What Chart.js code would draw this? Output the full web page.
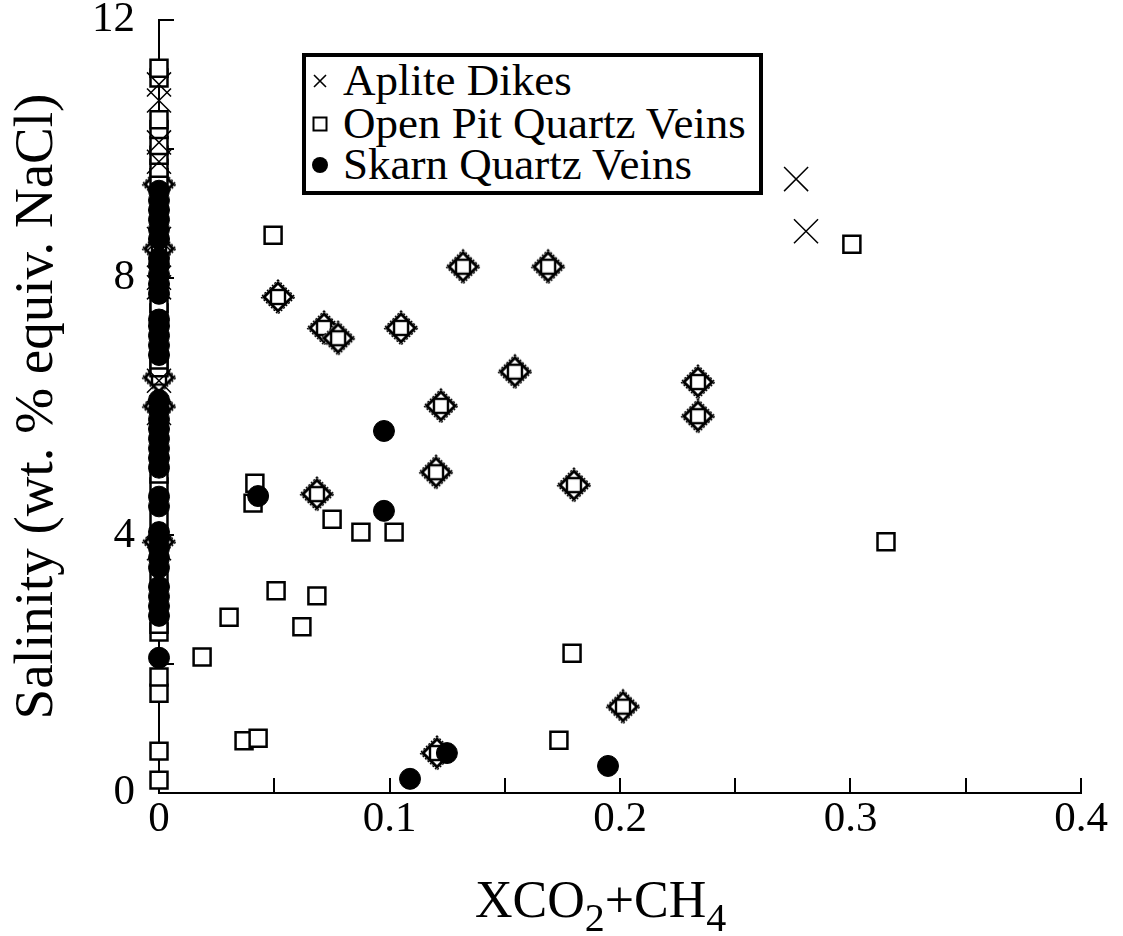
<!DOCTYPE html>
<html>
<head>
<meta charset="utf-8">
<title>Salinity vs XCO2+CH4</title>
<script src="https://cdn.jsdelivr.net/npm/chart.js@4.4.1/dist/chart.umd.min.js"></script>
<style>
    body { margin: 0; background: #fff; }
    #wrap { position: relative; width: 1123px; height: 936px; font-family: 'Liberation Serif', 'Times New Roman', serif; color: #000; }
    #legendBox { position: absolute; left: 302px; top: 53px; width: 461px; height: 142px; border: 4px solid #000; box-sizing: border-box; background: #fff; }
    .row { position: absolute; left: 0; height: 44px; line-height: 44px; font-size: 45px; white-space: nowrap; }
    .row svg { position: absolute; left: 5px; top: 14px; }
    .row span { position: absolute; left: 37px; }
    #xTitle { position: absolute; left: 475px; top: 874px; font-size: 52px; line-height: 1; white-space: nowrap; }
    #xTitle .sub { font-size: 40px; position: relative; top: 14px; }
</style>
</head>
<body>
<div id="wrap">
    <canvas id="salinityChart" width="1123" height="936"></canvas>
    <div id="legendBox">
        <div class="row" style="top:1px"><svg width="18" height="18"><path d="M3 3L15 15M15 3L3 15" stroke="#000" stroke-width="1.6"/></svg><span>Aplite Dikes</span></div>
        <div class="row" style="top:44px"><svg width="18" height="18"><rect x="2.5" y="2.5" width="13" height="13" fill="#fff" stroke="#000" stroke-width="2"/></svg><span>Open Pit Quartz Veins</span></div>
        <div class="row" style="top:85px"><svg width="18" height="18"><circle cx="9" cy="9" r="8" fill="#000"/></svg><span>Skarn Quartz Veins</span></div>
    </div>
    <div id="xTitle">XCO<span class="sub">2</span>+CH<span class="sub">4</span></div>
</div>
<script>
// Salinity (wt. % equiv. NaCl) against XCO2+CH4
// each point is [XCO2+CH4, salinity]

var aplitePoints = [
    [0, 11.0], [0, 10.75], [0, 10.1], [0, 9.8], [0, 8.6], [0, 8.0], [0, 7.85],
    [0, 6.4], [0, 5.9], [0, 3.8],
    [0.2764, 9.53], [0.2807, 8.72]
];

var openPitPoints = [
    [0, 0.2], [0, 0.65], [0, 1.55], [0, 1.8], [0, 2.5], [0, 2.62], [0, 3.35], [0, 4.25],
    [0, 4.75], [0, 4.95], [0, 6.6], [0, 6.72], [0, 7.45], [0, 7.6], [0, 9.55], [0, 9.7],
    [0, 9.9], [0, 10.05], [0, 10.3], [0, 10.45], [0, 11.1], [0, 11.25],
    [0.0495, 8.66], [0.3006, 8.52], [0.3154, 3.90], [0.0416, 4.81], [0.0408, 4.50],
    [0.0751, 4.25], [0.0876, 4.05], [0.1020, 4.05], [0.0508, 3.14], [0.0685, 3.06],
    [0.0304, 2.73], [0.0620, 2.58], [0.0187, 2.11], [0.1792, 2.17], [0.0369, 0.81],
    [0.0430, 0.85], [0.1735, 0.82]
];

var skarnPoints = [
    [0, 2.1], [0, 2.75], [0, 2.9], [0, 3.05], [0, 3.2], [0, 3.5], [0, 3.65], [0, 3.8],
    [0, 3.95], [0, 4.05], [0, 4.45], [0, 4.6], [0, 5.05], [0, 5.2], [0, 5.35], [0, 5.5],
    [0, 5.65], [0, 5.8], [0, 5.95], [0, 6.1], [0, 6.8], [0, 6.95], [0, 7.1], [0, 7.25],
    [0, 7.35], [0, 7.75], [0, 7.9], [0, 8.05], [0, 8.2], [0, 8.3], [0, 8.6], [0, 8.75],
    [0, 8.9], [0, 9.05], [0, 9.2], [0, 9.35],
    [0.0976, 5.62], [0.0430, 4.61], [0.0976, 4.38], [0.1089, 0.22], [0.1249, 0.62], [0.1948, 0.42]
];

// diamond-framed squares (no legend entry in the figure)
var diamondPoints = [
    [0, 3.9], [0, 6.0], [0, 6.45], [0, 8.45], [0, 9.45],
    [0.0516, 7.70], [0.0716, 7.22], [0.0777, 7.06], [0.1050, 7.22], [0.1319, 8.17],
    [0.1688, 8.17], [0.1544, 6.54], [0.1223, 6.01], [0.1202, 4.98], [0.0685, 4.64],
    [0.1800, 4.78], [0.2338, 6.38], [0.2338, 5.85], [0.2013, 1.34], [0.1206, 0.62]
];

var xRange = [0, 0.4], xStep = 0.05;
var yRange = [0, 12], yStep = 2;

var FONT = "'Liberation Serif', 'Times New Roman', serif";

function toPoints(pairs) {
    return pairs.map(function (p) { return { x: p[0], y: p[1] }; });
}

function makeDiamondMarker() {
    var c = document.createElement('canvas');
    c.width = 38;
    c.height = 38;
    var g = c.getContext('2d');
    var m = 19;
    g.strokeStyle = '#000';
    g.fillStyle = '#fff';
    // dotted tips
    g.lineWidth = 1.3;
    g.setLineDash([2, 1.5]);
    g.beginPath();
    g.moveTo(m, m - 17); g.lineTo(m + 17, m); g.lineTo(m, m + 17); g.lineTo(m - 17, m); g.closePath();
    g.fill();
    g.stroke();
    g.setLineDash([]);
    // thick body
    g.lineWidth = 3;
    g.beginPath();
    g.moveTo(m, m - 14); g.lineTo(m + 14, m); g.lineTo(m, m + 14); g.lineTo(m - 14, m); g.closePath();
    g.stroke();
    g.lineWidth = 2.4;
    g.fillRect(m - 7, m - 7, 14, 14);
    g.strokeRect(m - 7, m - 7, 14, 14);
    return c;
}

// inward tick marks on both axes
var innerTicks = {
    id: 'innerTicks',
    beforeDatasetsDraw: function (chart) {
        var ctx = chart.ctx;
        var xs = chart.scales.x, ys = chart.scales.y;
        var area = chart.chartArea;
        ctx.save();
        ctx.strokeStyle = '#000';
        ctx.lineWidth = 2;
        ctx.beginPath();
        xs.ticks.forEach(function (t) {
            var px = Math.round(xs.getPixelForValue(t.value));
            ctx.moveTo(px, area.bottom);
            ctx.lineTo(px, area.bottom - 15);
        });
        ys.ticks.forEach(function (t) {
            var py = Math.round(ys.getPixelForValue(t.value));
            ctx.moveTo(area.left, py);
            ctx.lineTo(area.left + 15, py);
        });
        ctx.stroke();
        ctx.restore();
    }
};

function initSalinityChart() {
    var ctx = document.getElementById('salinityChart').getContext('2d');
    return new Chart(ctx, {
        type: 'scatter',
        data: {
            datasets: [{
                label: 'Skarn Quartz Veins',
                data: toPoints(skarnPoints),
                pointStyle: 'circle',
                pointRadius: 10.5,
                backgroundColor: '#000',
                borderColor: '#000',
                borderWidth: 1,
                clip: false,
                order: 1
            }, {
                label: 'Aplite Dikes',
                data: toPoints(aplitePoints),
                pointStyle: 'crossRot',
                pointRadius: 17,
                borderColor: '#000',
                borderWidth: 1.5,
                clip: false,
                order: 2
            }, {
                label: 'Open Pit Quartz Veins',
                data: toPoints(openPitPoints),
                pointStyle: 'rect',
                pointRadius: 12,
                backgroundColor: '#fff',
                borderColor: '#000',
                borderWidth: 2.5,
                clip: false,
                order: 3
            }, {
                label: 'diamond',
                data: toPoints(diamondPoints),
                pointStyle: makeDiamondMarker(),
                pointRadius: 19,
                clip: false,
                order: 4
            }]
        },
        options: {
            responsive: false,
            animation: false,
            events: [],
            layout: {
                padding: { top: 20, right: 42, bottom: 0, left: 0 }
            },
            plugins: {
                legend: { display: false },
                tooltip: { enabled: false }
            },
            scales: {
                x: {
                    type: 'linear',
                    min: xRange[0],
                    max: xRange[1],
                    grid: { display: false, drawTicks: false },
                    border: { display: true, color: '#000', width: 2 },
                    afterFit: function (scale) {
                        scale.height = 143;
                        scale.paddingLeft = 0;
                        scale.paddingRight = 0;
                    },
                    ticks: {
                        stepSize: xStep,
                        autoSkip: false,
                        maxRotation: 0,
                        padding: 5,
                        color: '#000',
                        font: { family: FONT, size: 43, lineHeight: 1 },
                        callback: function (value) {
                            var r = Math.round(value * 100);
                            return r % 10 === 0 ? String(r / 100) : '';
                        }
                    }
                },
                y: {
                    type: 'linear',
                    min: yRange[0],
                    max: yRange[1],
                    grid: { display: false, drawTicks: false },
                    border: { display: true, color: '#000', width: 2 },
                    afterFit: function (scale) {
                        scale.width = 159;
                        scale.paddingTop = 0;
                        scale.paddingBottom = 0;
                    },
                    title: {
                        display: true,
                        text: 'Salinity (wt. % equiv. NaCl)',
                        color: '#000',
                        font: { family: FONT, size: 55, lineHeight: 1.2 },
                        padding: { top: 5, bottom: 0 }
                    },
                    ticks: {
                        stepSize: yStep,
                        autoSkip: false,
                        padding: 24,
                        color: '#000',
                        font: { family: FONT, size: 43, lineHeight: 1 },
                        callback: function (value) {
                            return value % 4 === 0 ? String(value) : '';
                        }
                    }
                }
            }
        },
        plugins: [innerTicks]
    });
}

initSalinityChart();
</script>
</body>
</html>
